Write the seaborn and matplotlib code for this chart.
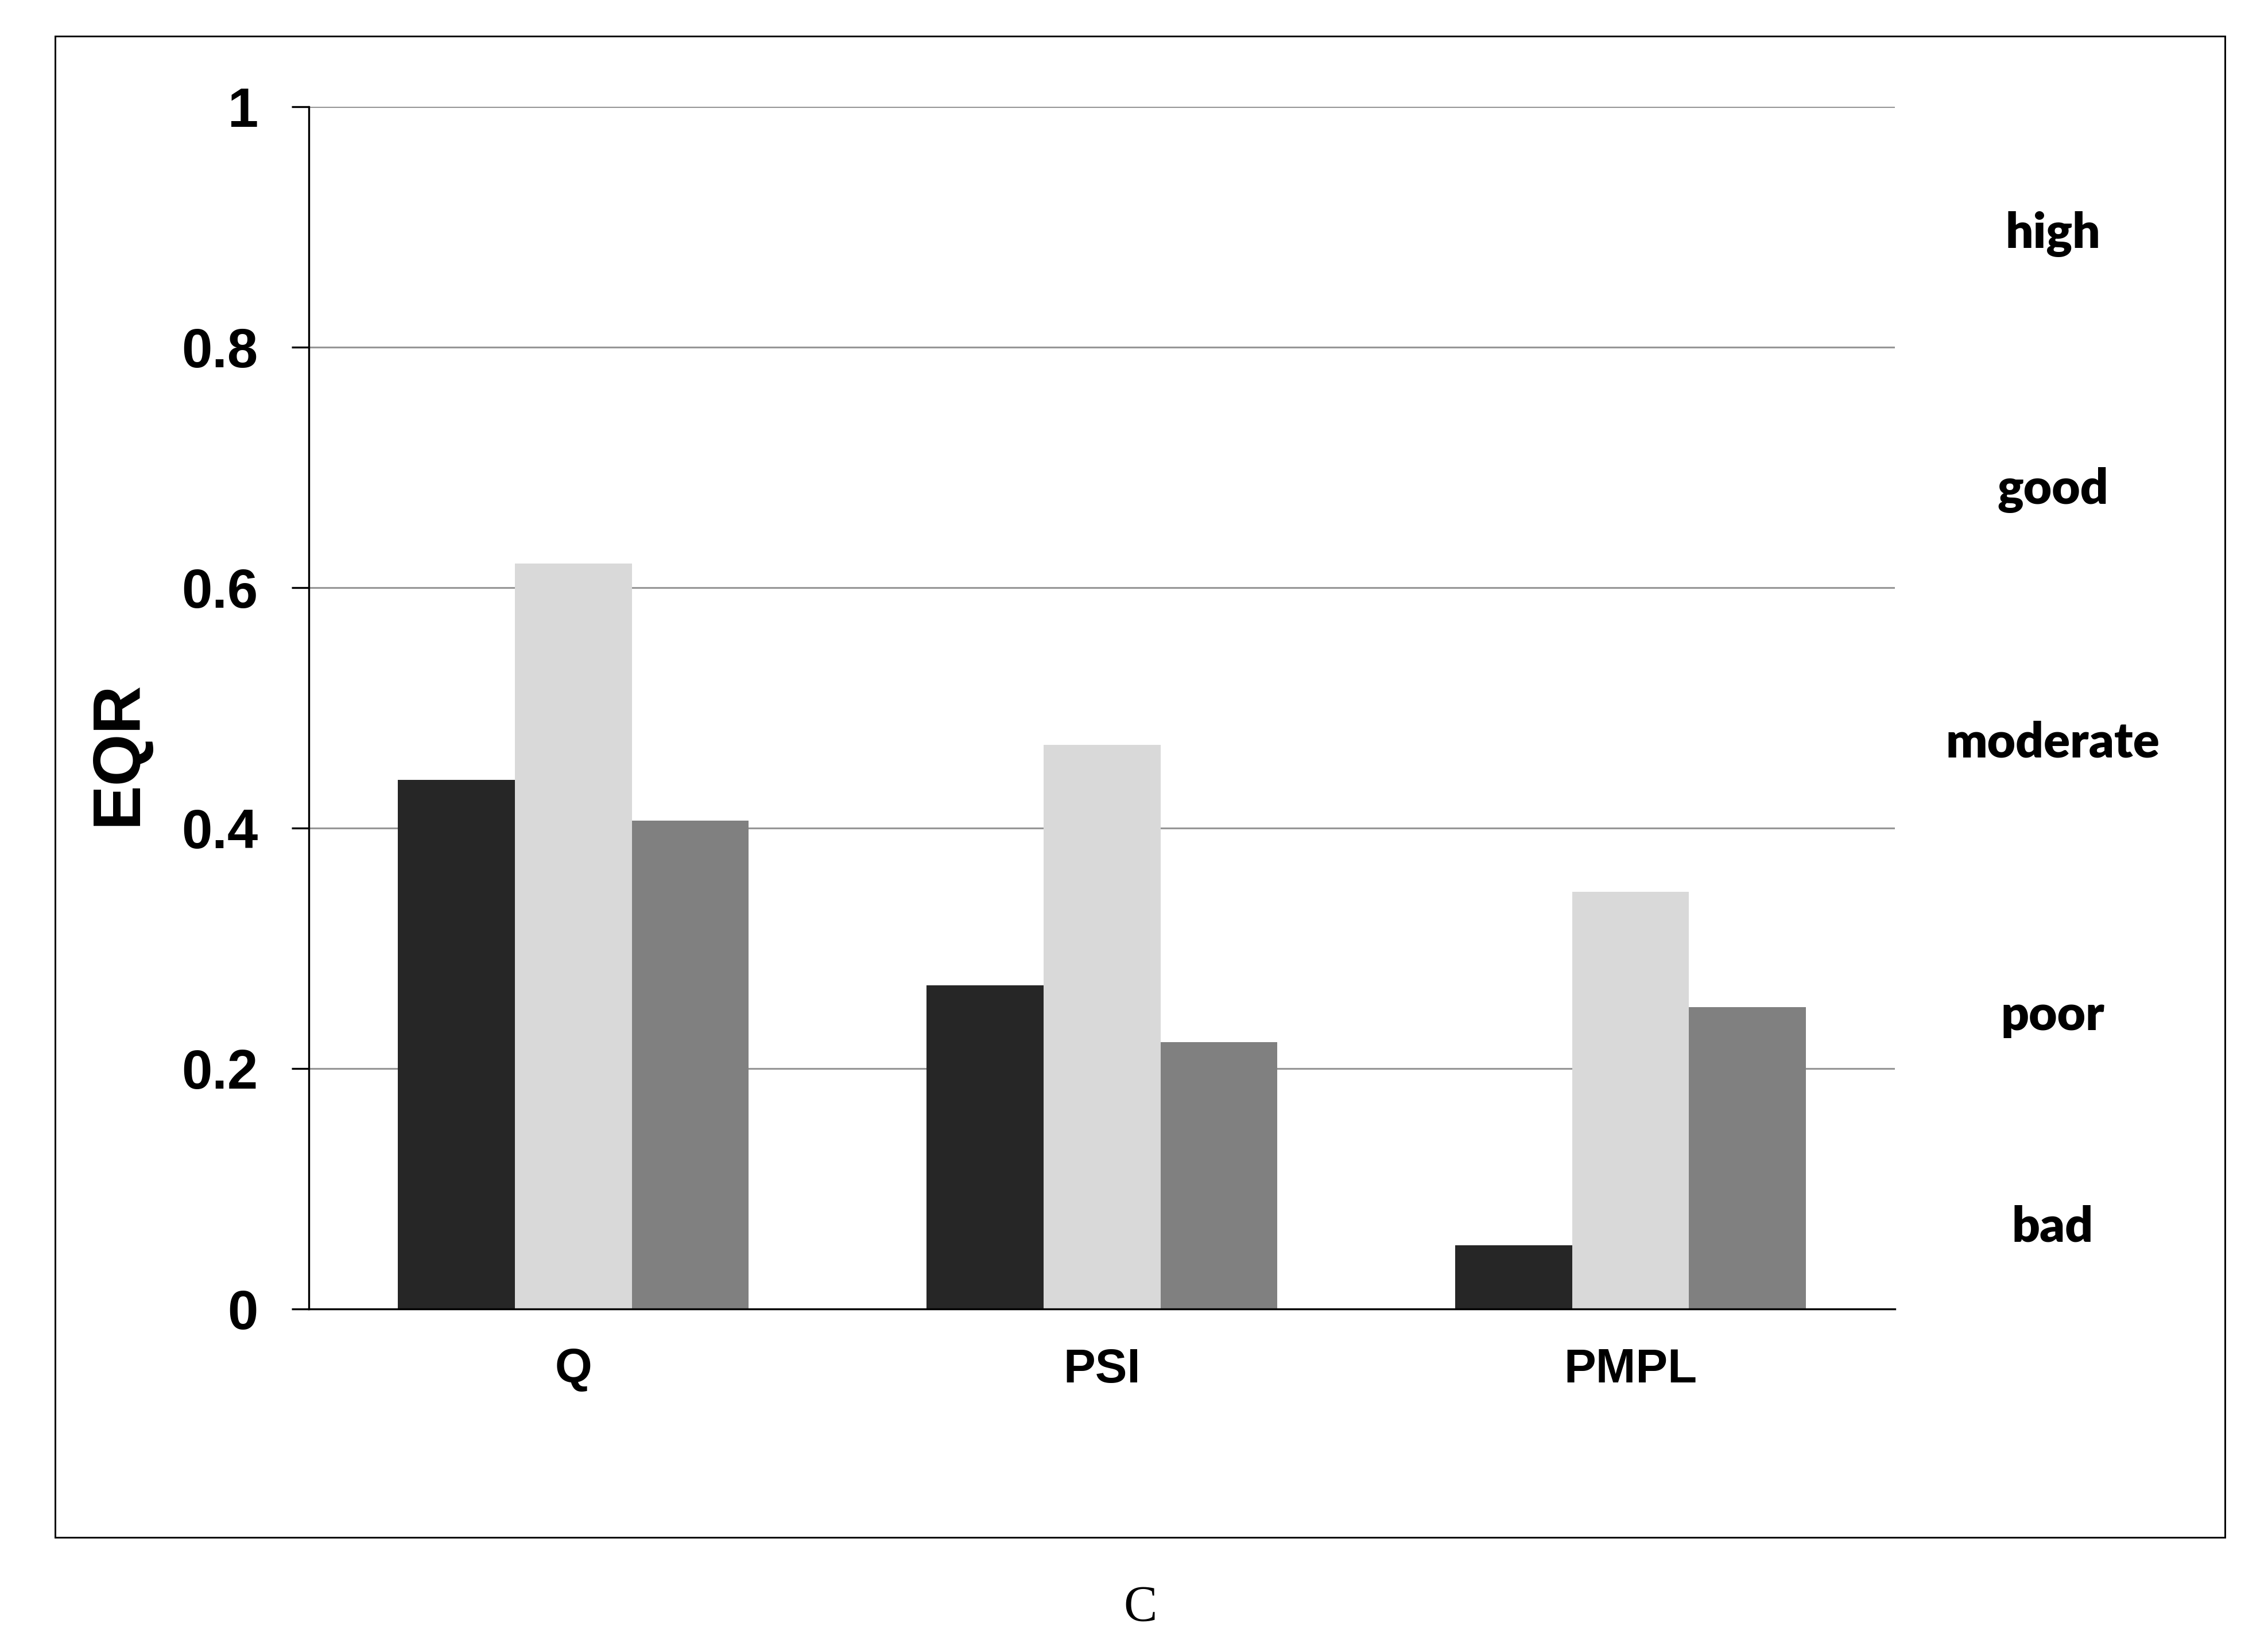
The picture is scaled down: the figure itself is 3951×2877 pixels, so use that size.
import pandas as pd
import seaborn as sns
import matplotlib.pyplot as plt
from matplotlib.patches import Rectangle

# Data
categories = ['Q', 'PSI', 'PMPL']
series = ['s1', 's2', 's3']
s1_vals = [0.440, 0.269, 0.053]
s2_vals = [0.620, 0.469, 0.347]
s3_vals = [0.406, 0.222, 0.251]
y_ticks = [0, 0.2, 0.4, 0.6, 0.8, 1]
y_ticklabels = ['0', '0.2', '0.4', '0.6', '0.8', '1']
class_labels = ['high', 'good', 'moderate', 'poor', 'bad']
class_pos = [0.894, 0.681, 0.471, 0.244, 0.068]

df = pd.DataFrame({
    'cat': categories * 3,
    'series': [s for s in series for _ in categories],
    'eqr': s1_vals + s2_vals + s3_vals,
})

sns.set_style('white')
plt.rcParams['font.family'] = ['Liberation Sans', 'DejaVu Sans']
plt.rcParams['text.color'] = 'black'
plt.rcParams['axes.labelcolor'] = 'black'
plt.rcParams['xtick.color'] = 'black'
plt.rcParams['ytick.color'] = 'black'

fig = plt.figure(figsize=(13.17, 9.59), dpi=300)
ax = fig.add_axes([0.1362, 0.2072, 0.6993, 0.7281])

colors = ['#262626', '#d9d9d9', '#808080']
sns.barplot(data=df, x='cat', y='eqr', hue='series', palette=colors,
            width=0.664, linewidth=0, ax=ax, zorder=2)
ax.get_legend().remove()

ax.set_xlim(-0.5, 2.5)
ax.set_ylim(0, 1)

# grid lines
ax.set_yticks(y_ticks)
ax.set_yticklabels(y_ticklabels, fontsize=23, fontweight='bold', color='black')
ax.yaxis.grid(True, color='#969696', linewidth=0.75, zorder=0)
ax.set_axisbelow(True)

# x ticks at category boundaries, labels at centers
ax.set_xticks([0, 1, 2])
ax.set_xticklabels(categories, fontsize=20, fontweight='bold', color='black')
ax.set_xticks([-0.5, 0.5, 1.5, 2.5], minor=True)
ax.tick_params(axis='x', which='major', length=0, pad=16)
ax.tick_params(axis='x', which='minor', length=6.2, width=0.6, direction='out', color='black')
ax.tick_params(axis='y', which='major', length=7.2, width=0.8, direction='out',
               color='black', pad=14, left=True)

for side in ['top', 'right']:
    ax.spines[side].set_visible(False)
for side in ['left', 'bottom']:
    ax.spines[side].set_color('black')
    ax.spines[side].set_linewidth(0.8)

ax.set_xlabel('')
ax.set_ylabel('EQR', fontsize=28, fontweight='bold', va='center', color='black')
ax.yaxis.set_label_coords(-0.120, 0.462)

# quality class labels on the right
for lab, yp in zip(class_labels, class_pos):
    ax.text(1.0995, yp, lab, transform=ax.transAxes, ha='center', va='center',
            fontsize=20.5, fontweight='heavy', color='black',
            family=['Lato', 'DejaVu Sans'])

# outer frame
fig.patches.append(Rectangle((0.0243, 0.0688), 0.9567, 0.9093, transform=fig.transFigure,
                             fill=False, edgecolor='black', linewidth=0.7))

fig.text(0.5027, 0.026, 'C', ha='center', va='center', fontsize=21, color='black',
         family=['Liberation Serif', 'DejaVu Serif'])

plt.savefig('out.png', dpi=300)
